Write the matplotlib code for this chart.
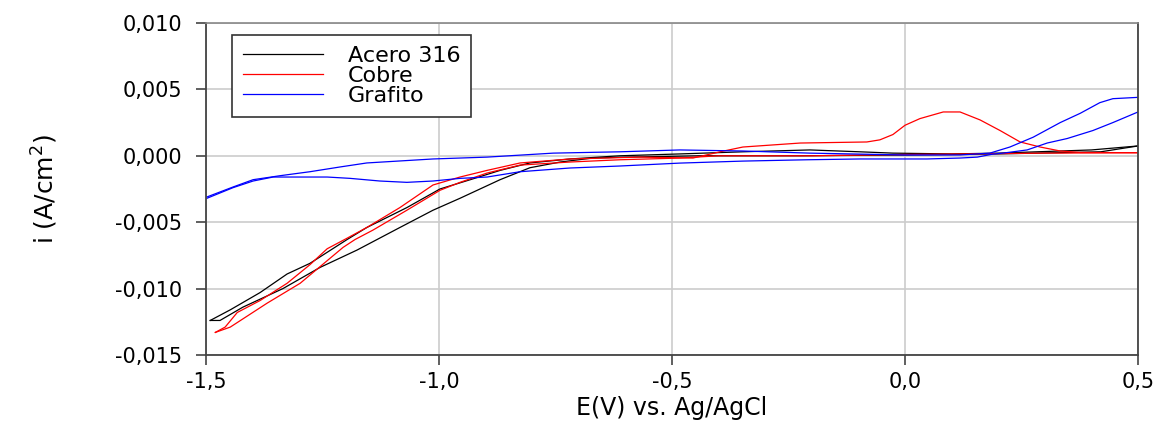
import matplotlib
matplotlib.use("Agg")
import matplotlib.pyplot as plt
from matplotlib.ticker import FuncFormatter

# voltammogram branches: potential E (V vs Ag/AgCl) and current density i (A/cm2)
# acero 316: sweep towards positive potentials, then back
acero_E_ida = [-1.491, -1.448, -1.384, -1.326, -1.277, -1.197, -1.155, -1.069, -0.998,
               -0.933, -0.869, -0.805, -0.719, -0.612, -0.483, -0.348, -0.204, -0.097,
               -0.026, 0.1, 0.2, 0.4, 0.5]
acero_i_ida = [-0.0124, -0.0116, -0.0103, -0.0089, -0.0081, -0.0063, -0.0054, -0.0039, -0.0025,
               -0.0018, -0.0011, -0.00054, -0.00024, 0.0, 0.00014, 0.0003, 0.00044, 0.0003,
               0.0002, 0.00014, 0.0002, 0.00044, 0.00074]
acero_E_vuelta = [0.5, 0.42, 0.2, 0.0, -0.225, -0.44, -0.597, -0.67, -0.74, -0.805, -0.869,
                  -0.955, -1.013, -1.084, -1.176, -1.255, -1.335, -1.421, -1.47, -1.491]
acero_i_vuelta = [0.00074, 0.0003, 0.00014, 0.00006, 0.0, 0.0, -0.0001, -0.00017, -0.00047,
                  -0.0009, -0.0018, -0.0032, -0.0041, -0.0054, -0.0071, -0.0084, -0.0100,
                  -0.0114, -0.0124, -0.0124]

# cobre
cobre_E_ida = [-1.48, -1.459, -1.433, -1.384, -1.326, -1.277, -1.24, -1.197, -1.155, -1.084,
               -1.013, -0.955, -0.897, -0.826, -0.719, -0.569, -0.455, -0.397, -0.348, -0.225,
               -0.082, -0.054, -0.026, 0.0, 0.032, 0.082, 0.118, 0.161, 0.204, 0.247, 0.29,
               0.333, 0.376, 0.5]
cobre_i_ida = [-0.0133, -0.0129, -0.0118, -0.0109, -0.0096, -0.0082, -0.0070, -0.0062, -0.0054,
               -0.0039, -0.0022, -0.0016, -0.0011, -0.00054, -0.00024, -0.0001, -0.00017, 0.0003,
               0.00066, 0.00096, 0.00104, 0.0012, 0.0016, 0.0023, 0.0028, 0.0033, 0.0033,
               0.0027, 0.0019, 0.00104, 0.00066, 0.00036, 0.00025, 0.00023]
cobre_E_vuelta = [0.5, 0.3, 0.1, 0.0, -0.2, -0.4, -0.483, -0.612, -0.719, -0.826, -0.897,
                  -0.955, -0.998, -1.069, -1.142, -1.18, -1.206, -1.298, -1.369, -1.448, -1.48]
cobre_i_vuelta = [0.00023, 0.0002, 0.00013, 0.0001, 0.0, 0.0, -0.00017, -0.0003, -0.00047,
                  -0.0007, -0.0013, -0.0020, -0.0026, -0.0041, -0.0056, -0.0063, -0.0069,
                  -0.0096, -0.0111, -0.0129, -0.0133]

# grafito
grafito_E_ida = [-1.498, -1.442, -1.399, -1.341, -1.277, -1.212, -1.155, -1.084, -1.013, -0.955,
                 -0.897, -0.755, -0.612, -0.483, -0.348, -0.204, 0.0, 0.118, 0.182, 0.225,
                 0.275, 0.333, 0.376, 0.418, 0.446, 0.5]
grafito_i_ida = [-0.0031, -0.00235, -0.0018, -0.0015, -0.0012, -0.00084, -0.00054, -0.00039,
                 -0.00024, -0.00017, -0.0001, 0.0002, 0.0003, 0.00044, 0.00036, 0.0002, 0.00006,
                 0.00006, 0.0002, 0.00066, 0.0014, 0.0025, 0.0032, 0.0040, 0.0043, 0.0044]
grafito_E_vuelta = [0.5, 0.446, 0.403, 0.348, 0.305, 0.262, 0.21, 0.189, 0.155, 0.118, 0.047,
                    -0.097, -0.21, -0.348, -0.483, -0.612, -0.719, -0.826, -0.897, -0.955,
                    -1.013, -1.069, -1.127, -1.191, -1.24, -1.298, -1.356, -1.399, -1.442, -1.498]
grafito_i_vuelta = [0.0033, 0.0025, 0.0019, 0.0013, 0.00096, 0.00044, 0.0002, 0.00013, -0.0001,
                    -0.00017, -0.00024, -0.00024, -0.0003, -0.0004, -0.00055, -0.00077, -0.00092,
                    -0.0012, -0.0016, -0.0017, -0.0019, -0.0020, -0.0019, -0.0017, -0.0016,
                    -0.0016, -0.0016, -0.0019, -0.0024, -0.0032]

x_ticks = [-1.5, -1.0, -0.5, 0.0, 0.5]
y_ticks = [-0.015, -0.010, -0.005, 0.0, 0.005, 0.010]

fig = plt.figure(figsize=(11.64, 4.28), dpi=100)
ax = fig.add_axes([0.177, 0.1706, 0.8007, 0.7757])

lw = 0.9
ax.plot(acero_E_ida, acero_i_ida, color="black", lw=lw, label="Acero 316")
ax.plot(acero_E_vuelta, acero_i_vuelta, color="black", lw=lw)
ax.plot(cobre_E_ida, cobre_i_ida, color="red", lw=lw, label="Cobre")
ax.plot(cobre_E_vuelta, cobre_i_vuelta, color="red", lw=lw)
ax.plot(grafito_E_ida, grafito_i_ida, color="blue", lw=lw, label="Grafito")
ax.plot(grafito_E_vuelta, grafito_i_vuelta, color="blue", lw=lw)

ax.set_xlim(-1.5, 0.5)
ax.set_ylim(-0.015, 0.010)
ax.set_xticks(x_ticks)
ax.set_yticks(y_ticks)
ax.xaxis.set_major_formatter(FuncFormatter(lambda v, p: f"{v:.1f}".replace(".", ",")))
ax.yaxis.set_major_formatter(FuncFormatter(lambda v, p: f"{v:.3f}".replace(".", ",")))
ax.tick_params(axis="both", direction="out", length=7, width=1.2, color="#444444",
               labelsize=15, labelcolor="black")
ax.tick_params(axis="y", pad=10)
ax.tick_params(axis="x", pad=5)
ax.grid(True, color="#cccccc", lw=1.2)
ax.set_axisbelow(True)

for side in ["left", "bottom", "right"]:
    ax.spines[side].set_color("#444444")
    ax.spines[side].set_linewidth(1.3)
ax.spines["top"].set_color("#888888")
ax.spines["top"].set_linewidth(1.2)

ax.set_xlabel("E(V) vs. Ag/AgCl", fontsize=17, labelpad=3)
ax.set_ylabel("i (A/cm$^2$)", fontsize=18, labelpad=40)

leg = ax.legend(loc="upper left", bbox_to_anchor=(0.028, 0.964), fontsize=16,
                handlelength=3.6, handletextpad=1.1, labelspacing=0.0,
                borderpad=0.5, borderaxespad=0, fancybox=False, framealpha=1)
leg.get_frame().set_edgecolor("#333333")
leg.get_frame().set_linewidth(1.2)

fig.savefig("out.png", dpi=100)
